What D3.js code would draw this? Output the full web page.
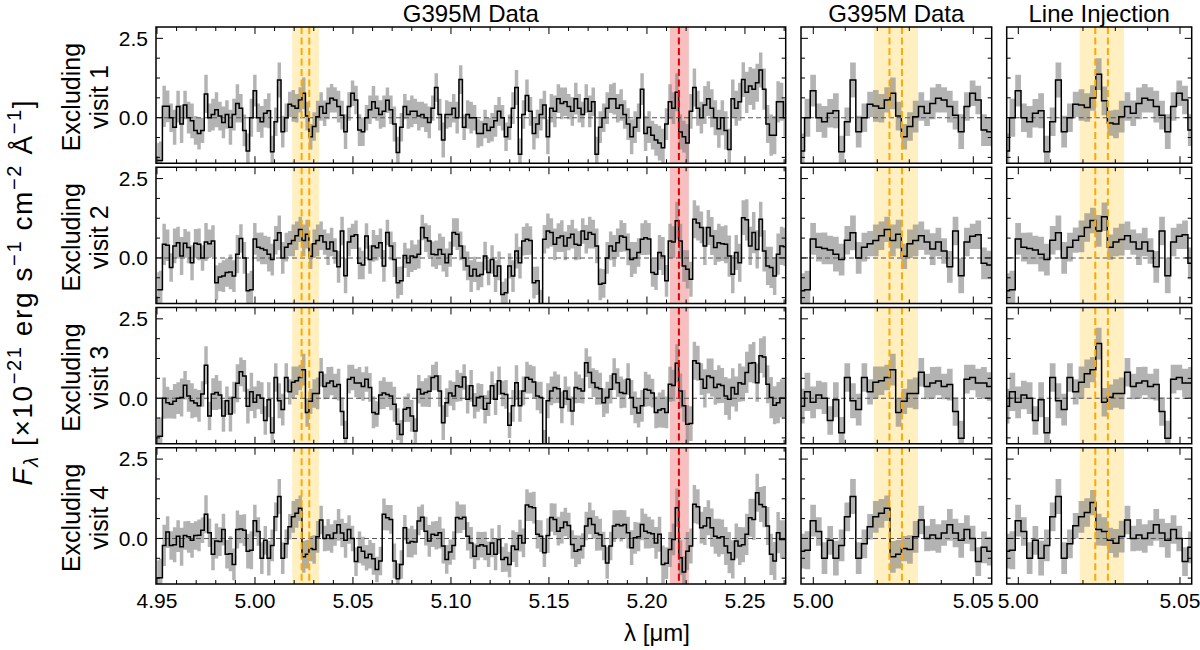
<!DOCTYPE html>
<html><head><meta charset="utf-8">
<script src="https://cdn.jsdelivr.net/npm/d3@7"></script>
<style>
body{margin:0;background:#fff}
text{font-family:"Liberation Sans",Arial,Helvetica,sans-serif;fill:#000}
</style>
</head><body>
<svg id="c" width="1200" height="650"></svg>
<script>
// ---------------- data ----------------
const lamStart = 4.9501;      // centre of first spectral bin (µm)
const lamStep = 0.00178;      // bin width (µm)

const flux1 = [-1.35,-1.35,0.36,0.36,0.0,-0.3,0.35,-0.2,0.4,0.0,
-0.1,-0.4,-0.5,-0.4,0.75,0.0,0.1,0.25,0.05,-0.15,
0.1,-0.3,0.1,0.45,0.3,-0.4,-1.05,0.0,0.85,0.0,
-0.13,0.14,0.22,-1.07,-0.13,1.19,-0.44,0.0,0.42,0.37,
0.3,0.56,0.77,0.05,-0.6,-0.28,0.03,0.35,0.14,0.45,
0.61,0.56,0.35,0.08,-0.44,0.35,0.77,0.56,-0.39,-0.44,
0.0,0.25,0.5,0.3,0.1,0.2,0.55,0.25,-0.2,-1.1,
-0.3,0.35,0.1,0.2,0.2,0.05,0.1,0.0,-0.15,0.3,
0.95,0.1,-0.7,0.1,0.1,0.3,0.0,1.2,-0.3,0.1,
0.0,0.0,-0.5,-0.5,-0.2,-0.4,-0.3,-0.1,0.2,0.0,
-0.6,-0.3,0.3,0.95,-1.15,0.1,0.7,0.2,-0.5,-0.2,
0.1,0.4,-0.6,0.3,0.2,0.6,0.45,0.5,0.35,0.2,
0.6,0.3,0.1,0.6,0.2,0.5,-1.15,-0.3,0.0,0.3,
0.6,0.6,0.3,0.4,0.1,-0.2,-0.6,-0.3,0.0,0.9,
-0.5,-0.3,-0.55,-0.7,-0.8,-0.95,-0.2,0.5,0.3,0.8,
-0.45,-0.6,-0.8,0.2,0.95,0.3,0.0,0.4,0.6,0.3,
0.0,-0.35,0.0,-0.4,-1.0,0.6,0.3,0.5,1.2,0.8,
1.0,0.9,1.1,1.5,0.9,-0.2,-0.55,-0.55,0.5,0.5,0.0];

const flux2 = [-1.0,-1.0,0.43,0.4,-0.3,0.38,0.48,0.06,0.46,0.33,
-0.15,0.46,0.43,0.0,0.5,0.45,0.53,-0.78,-0.6,-0.57,
-0.46,-0.44,-0.57,0.12,0.61,0.0,-1.03,-1.0,0.6,0.34,
0.3,0.25,0.12,-0.05,0.56,0.79,0.0,0.34,0.45,0.55,
0.7,0.9,0.55,0.75,0.05,0.45,0.55,0.7,0.5,0.28,
0.5,0.22,-0.28,0.85,-0.56,0.5,0.68,0.73,-0.17,-0.22,
0.69,-0.05,0.38,0.32,0.48,-0.25,0.8,0.38,-0.05,-0.78,
-0.72,0.08,-0.15,0.06,0.02,0.12,0.96,0.64,0.53,0.12,
0.1,0.27,0.12,-0.15,0.12,0.8,0.75,0.38,0.0,-0.25,
-0.57,-0.36,-0.57,-0.52,0.06,-0.46,-0.05,-0.57,-0.25,-1.15,
-1.1,-0.25,-0.57,0.22,-0.15,0.53,0.59,0.55,-0.78,-0.72,
-1.5,0.59,0.85,0.8,0.43,0.64,0.69,0.38,0.64,0.75,
0.43,0.4,0.85,0.59,0.8,0.75,0.38,-0.83,-0.8,0.0,
0.38,0.22,0.48,0.69,0.65,0.27,-0.05,0.0,0.17,0.59,
0.64,0.6,-0.46,-0.51,0.17,0.06,-0.72,0.53,0.5,1.17,
0.53,-0.25,-0.36,-0.67,1.22,1.1,0.96,0.38,0.96,0.69,
0.33,0.48,0.45,0.43,0.06,-0.51,0.17,-0.15,1.27,1.2,
0.38,0.8,0.27,1.22,0.22,-0.25,-0.3,-0.57,0.12,0.38,0.35];

const flux3 = [-1.2,-1.2,0.0,-0.14,-0.19,-0.1,0.0,0.02,0.41,0.07,
-0.08,-0.15,-0.24,0.13,1.04,-0.56,0.13,0.18,0.1,-0.56,
-0.08,-0.5,0.02,0.47,0.83,0.7,-0.25,0.2,-0.13,0.1,
0.0,-0.7,-0.05,-1.09,0.65,-0.08,-0.36,0.65,0.2,0.5,
0.55,0.65,0.9,-0.45,-0.1,0.15,0.15,0.82,0.37,0.48,
0.54,0.37,0.43,-0.42,-1.26,0.6,0.65,0.48,0.48,0.37,
0.6,0.34,-0.45,-0.5,0.1,0.16,0.12,0.07,-0.19,-0.82,
-1.14,-0.35,-0.3,-0.56,-1.03,0.28,0.13,0.18,0.22,0.65,
0.7,0.23,-0.77,-0.14,0.16,0.07,0.39,0.35,0.67,-0.03,
0.39,-0.24,0.02,0.05,-0.35,-0.16,0.39,-0.03,0.55,0.15,
0.12,-0.85,-0.24,0.49,-0.24,0.23,0.65,0.6,0.51,0.07,
0.02,-1.45,-0.08,0.23,0.34,0.3,-0.29,0.23,-0.03,-0.4,
0.34,0.3,0.23,1.12,0.81,0.49,0.34,0.3,-0.14,0.02,
0.28,0.76,0.49,0.18,0.15,0.6,0.02,-0.29,-0.47,-0.24,
0.28,0.25,0.16,-0.45,-0.37,-0.33,-0.45,0.44,0.4,1.1,
0.23,-0.24,-0.82,-0.8,1.18,1.1,0.6,0.31,0.7,0.65,
0.34,0.44,0.4,0.07,-0.03,0.34,0.13,0.49,0.45,0.81,
1.1,1.12,0.49,1.34,1.3,0.44,0.02,-0.22,-0.14,0.0,0.0];

const flux4 = [-1.24,-1.24,-0.22,0.2,-0.22,-0.2,0.07,-0.26,0.09,0.05,
-0.06,0.09,0.1,0.26,0.76,0.18,-0.5,-0.08,-0.1,0.28,
-0.5,-0.48,-0.82,0.28,0.3,0.26,-0.4,-0.37,0.56,0.22,
-0.62,-0.06,-0.62,-0.22,0.68,1.32,-0.62,-0.17,0.37,0.68,
0.79,0.95,-0.58,-0.5,-0.32,-0.35,0.05,0.58,0.0,0.11,
0.0,0.17,0.43,0.17,-0.06,0.28,0.0,-0.73,-0.28,-0.4,
-0.61,-0.5,-0.64,-0.98,-0.71,0.76,0.65,0.6,-0.71,-1.27,
-0.82,0.34,-0.14,-0.1,-0.11,0.55,0.67,0.23,-0.08,0.13,
0.1,0.18,-0.24,-0.66,-0.43,-0.22,0.66,0.62,0.67,0.07,
-0.14,-0.56,-0.24,-0.2,-0.24,-0.5,-0.14,-0.5,-0.03,-0.66,
-0.6,-0.82,-0.24,-0.35,0.09,-0.14,1.05,1.0,0.97,0.13,
0.07,-0.45,0.09,0.66,0.6,0.23,0.34,0.52,0.41,-0.19,
-0.4,-0.36,-0.24,0.39,0.63,0.44,0.16,0.12,-0.24,-0.77,
-0.24,0.39,0.44,0.4,0.44,0.18,-0.29,0.02,0.05,0.44,
0.23,0.18,0.15,-0.14,0.13,-0.82,-0.78,-0.35,-0.03,0.97,
-0.61,-1.06,-0.4,-0.24,1.08,1.0,0.34,0.39,0.65,0.34,
0.07,0.02,0.05,-0.24,-0.45,-0.66,-0.08,-0.24,-0.2,0.13,
0.65,0.6,1.44,1.07,1.0,0.39,-0.5,-0.71,0.18,-0.03,-0.03];

const fluxErr = [0.55,0.6,0.65,0.5,0.45,0.55,0.5,0.6,0.45,0.5,
0.55,0.45,0.5,0.4,0.6,0.45,0.5,0.55,0.45,0.5,
0.45,0.55,0.5,0.6,0.45,0.5,0.55,0.6,0.5,0.45,
0.5,0.45,0.55,0.5,0.45,0.55,0.5,0.45,0.4,0.5,
0.45,0.4,0.5,0.45,0.4,0.45,0.5,0.45,0.4,0.5,
0.45,0.4,0.5,0.45,0.55,0.45,0.4,0.45,0.5,0.45,
0.4,0.45,0.5,0.4,0.45,0.5,0.4,0.45,0.55,0.5,
0.45,0.4,0.45,0.5,0.4,0.45,0.4,0.45,0.5,0.4,
0.45,0.5,0.55,0.45,0.4,0.45,0.5,0.45,0.4,0.45,
0.5,0.4,0.45,0.4,0.45,0.4,0.45,0.5,0.45,0.4,
0.45,0.4,0.5,0.55,0.5,0.45,0.5,0.45,0.5,0.45,
0.5,0.45,0.55,0.45,0.5,0.45,0.5,0.45,0.4,0.45,
0.5,0.45,0.4,0.45,0.5,0.45,0.55,0.5,0.45,0.5,
0.45,0.5,0.45,0.5,0.45,0.5,0.55,0.5,0.45,0.5,
0.55,0.5,0.45,0.5,0.55,0.6,0.5,0.55,0.5,0.6,
0.55,0.5,0.6,0.55,0.6,0.55,0.5,0.6,0.55,0.6,
0.55,0.6,0.55,0.6,0.65,0.6,0.55,0.6,0.55,0.65,
0.6,0.65,0.6,0.55,0.65,0.6,0.65,0.6,0.65,0.6,0.6];

const injStart = 38;
const inj1 = [0.42,0.4,0.32,0.62,1.37,0.53,-0.17,-0.2,0.03];
const inj2 = [0.56,0.68,0.96,1.18,0.85,1.3,0.34,0.5,0.58];
const inj3 = [0.2,0.5,0.77,0.9,1.72,-0.13,0.03,0.15,0.15];
const inj4 = [0.4,0.68,0.82,1.13,0.28,0.22,-0.06,-0.15,0.06];

const rowLabels = ["visit 1","visit 2","visit 3","visit 4"];
const colTitles = ["G395M Data","G395M Data","Line Injection"];
const lineWindow = [5.019, 5.0327];
const lineCenters = [5.0238, 5.0277];
const maskWindow = [5.2117, 5.2214];
const maskCenter = 5.2163;
const wideTickLabels = ["4.95","5.00","5.05","5.10","5.15","5.20","5.25"];
const zoomTickLabels = ["5.00","5.05"];
const yTickLabels = ["0.0","2.5"];

// ---------------- layout ----------------
const svg = d3.select("#c");
const cols = [
  {x0:156, x1:785.7, dom:[4.9495, 5.2708], ticks:wideTickLabels},
  {x0:801, x1:991.7, dom:[4.99616, 5.05575], ticks:zoomTickLabels},
  {x0:1006.7, x1:1191.7, dom:[4.99641, 5.05362], ticks:zoomTickLabels}
];
const rowTop0 = 27, rowH = 136.25, rowGap = 4;
const yDom = [-1.435, 2.857];
const fluxes = [flux1, flux2, flux3, flux4];
const injs = [inj1, inj2, inj3, inj4];

const lam = fluxes[0].map((_, i) => lamStart + i * lamStep);

const defs = svg.append("defs");

fluxes.forEach((flux, r) => {
  const top = rowTop0 + r * (rowH + rowGap);
  const bot = top + rowH;
  const y = d3.scaleLinear().domain(yDom).range([bot, top]);
  cols.forEach((c, ci) => {
    const x = d3.scaleLinear().domain(c.dom).range([c.x0, c.x1]);
    const id = `clip${r}_${ci}`;
    defs.append("clipPath").attr("id", id).append("rect")
      .attr("x", c.x0).attr("y", top).attr("width", c.x1 - c.x0).attr("height", rowH);
    const g = svg.append("g").attr("clip-path", `url(#${id})`);

    let vals = flux.slice();
    if (ci === 2) injs[r].forEach((v, k) => { vals[injStart + k] = v; });
    const pts = vals.map((v, i) => ({l: lam[i], f: v, e: fluxErr[i]}));

    // highlight windows
    g.append("rect").attr("x", x(lineWindow[0])).attr("width", x(lineWindow[1]) - x(lineWindow[0]))
      .attr("y", top).attr("height", rowH).attr("fill", "#FFC107").attr("fill-opacity", 0.25);
    if (ci === 0) {
      g.append("rect").attr("x", x(maskWindow[0])).attr("width", x(maskWindow[1]) - x(maskWindow[0]))
        .attr("y", top).attr("height", rowH).attr("fill", "#e41a1c").attr("fill-opacity", 0.28);
    }
    // error band
    const area = d3.area().curve(d3.curveStep)
      .x(d => x(d.l)).y0(d => y(d.f - d.e)).y1(d => y(d.f + d.e));
    g.append("path").datum(pts).attr("d", area).attr("fill", "#808080").attr("fill-opacity", 0.6);
    // zero line
    g.append("line").attr("x1", c.x0).attr("x2", c.x1).attr("y1", y(0)).attr("y2", y(0))
      .attr("stroke", "#555").attr("stroke-width", 1.1).attr("stroke-dasharray", "5,3");
    // spectrum
    const line = d3.line().curve(d3.curveStep).x(d => x(d.l)).y(d => y(d.f));
    g.append("path").datum(pts).attr("d", line).attr("fill", "none")
      .attr("stroke", "#000").attr("stroke-width", 1.5).attr("stroke-linejoin", "miter");
    // vertical dashed lines
    lineCenters.forEach(lc => {
      g.append("line").attr("x1", x(lc)).attr("x2", x(lc)).attr("y1", top).attr("y2", bot)
        .attr("stroke", "#FFA800").attr("stroke-width", 2).attr("stroke-dasharray", "7,3.5");
    });
    if (ci === 0) {
      g.append("line").attr("x1", x(maskCenter)).attr("x2", x(maskCenter)).attr("y1", top).attr("y2", bot)
        .attr("stroke", "#e00000").attr("stroke-width", 2).attr("stroke-dasharray", "7,3.5");
    }

    // ticks
    const tg = svg.append("g").attr("stroke", "#000").attr("stroke-width", 1);
    const majVals = c.ticks.map(Number);
    const minLo = Math.ceil(c.dom[0] * 100 - 1e-6), minHi = Math.floor(c.dom[1] * 100 + 1e-6);
    for (let k = minLo; k <= minHi; k++) {
      const v = k / 100;
      const isMaj = majVals.some(m => Math.abs(m - v) < 1e-6);
      const len = isMaj ? 7 : 4;
      const xx = x(v);
      tg.append("line").attr("x1", xx).attr("x2", xx).attr("y1", bot).attr("y2", bot - len);
      tg.append("line").attr("x1", xx).attr("x2", xx).attr("y1", top).attr("y2", top + len);
    }
    const yMajVals = yTickLabels.map(Number);
    for (let k = Math.ceil(yDom[0] / 0.625); k <= Math.floor(yDom[1] / 0.625); k++) {
      const v = k * 0.625;
      const isMaj = yMajVals.some(m => Math.abs(m - v) < 1e-6);
      const len = isMaj ? 7 : 4;
      const yy = y(v);
      tg.append("line").attr("x1", c.x0).attr("x2", c.x0 + len).attr("y1", yy).attr("y2", yy);
      tg.append("line").attr("x1", c.x1).attr("x2", c.x1 - len).attr("y1", yy).attr("y2", yy);
    }
    // frame
    svg.append("rect").attr("x", c.x0).attr("y", top).attr("width", c.x1 - c.x0).attr("height", rowH)
      .attr("fill", "none").attr("stroke", "#000").attr("stroke-width", 1.5);

    // tick labels
    if (ci === 0) {
      yTickLabels.forEach(t => {
        svg.append("text").attr("x", c.x0 - 8).attr("y", y(+t)).attr("dy", "0.35em")
          .attr("text-anchor", "end").style("font-size", "21px").text(t);
      });
    }
    if (r === 3) {
      c.ticks.forEach(t => {
        svg.append("text").attr("x", x(+t)).attr("y", 608).attr("text-anchor", "middle")
          .style("font-size", "21px").text(t);
      });
    }
    if (r === 0) {
      svg.append("text").attr("x", (c.x0 + c.x1) / 2).attr("y", 22).attr("text-anchor", "middle")
        .style("font-size", "24px").text(colTitles[ci]);
    }
  });
  // row labels
  const cy = (top + bot) / 2 + 2;
  svg.append("text").attr("transform", `translate(80,${cy}) rotate(-90)`).attr("text-anchor", "middle")
    .style("font-size", "25px").text("Excluding");
  svg.append("text").attr("transform", `translate(108,${cy}) rotate(-90)`).attr("text-anchor", "middle")
    .style("font-size", "25px").text(rowLabels[r]);
});

// axis labels
svg.append("text").attr("x", 657).attr("y", 641).attr("text-anchor", "middle")
  .style("font-size", "24px").text("λ [μm]");

const yl = svg.append("text").attr("transform", "translate(32,293) rotate(-90)")
  .attr("text-anchor", "middle").style("font-size", "28px")
  .attr("textLength", 385).attr("lengthAdjust", "spacing");
const parts = [
  {t:"F", s:28, dy:0, it:true},
  {t:"λ", s:20, dy:6, it:true},
  {t:" [×10", s:28, dy:-6},
  {t:"−21", s:20, dy:-11},
  {t:" erg s", s:28, dy:11},
  {t:"−1", s:20, dy:-11},
  {t:" cm", s:28, dy:11},
  {t:"−2", s:20, dy:-11},
  {t:" Å", s:28, dy:11},
  {t:"−1", s:20, dy:-11},
  {t:"]", s:28, dy:11}
];
parts.forEach(p => {
  yl.append("tspan").attr("dy", p.dy).style("font-size", p.s + "px")
    .style("font-style", p.it ? "italic" : "normal").text(p.t);
});
</script>
</body></html>
